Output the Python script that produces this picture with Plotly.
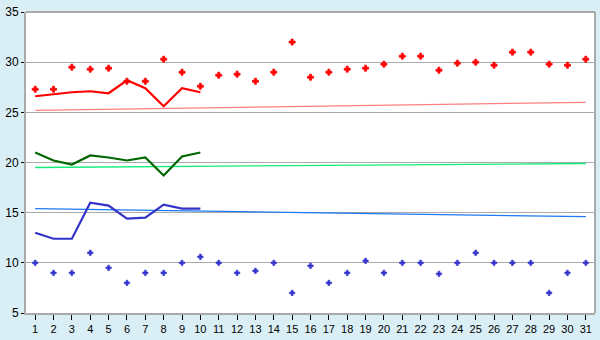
import plotly.graph_objects as go

days = list(range(1, 32))
red_points = [27.3, 27.3, 29.5, 29.3, 29.4, 28.1, 28.1, 30.3, 29.0, 27.6,
              28.7, 28.8, 28.1, 29.0, 32.0, 28.5, 29.0, 29.3, 29.4, 29.8,
              30.6, 30.6, 29.2, 29.9, 30.0, 29.7, 31.0, 31.0, 29.8, 29.7, 30.3]
blue_points = [10.0, 9.0, 9.0, 11.0, 9.5, 8.0, 9.0, 9.0, 10.0, 10.6,
               10.0, 9.0, 9.2, 10.0, 7.0, 9.7, 8.0, 9.0, 10.2, 9.0,
               10.0, 10.0, 8.9, 10.0, 11.0, 10.0, 10.0, 10.0, 7.0, 9.0, 10.0]
line_days = list(range(1, 11))
red_line = [26.6, 26.8, 27.0, 27.1, 26.9, 28.2, 27.4, 25.6, 27.4, 27.0]
green_line = [21.0, 20.2, 19.8, 20.7, 20.5, 20.2, 20.5, 18.7, 20.6, 21.0]
blue_line = [13.0, 12.4, 12.4, 16.0, 15.7, 14.4, 14.5, 15.8, 15.4, 15.4]
trend_days = [1, 31]
red_trend = [25.2, 26.0]
green_trend = [19.5, 19.9]
blue_trend = [15.4, 14.6]

fig = go.Figure()
fig.add_trace(go.Scatter(x=trend_days, y=red_trend, mode="lines",
                         line=dict(color="#ff8080", width=1.3)))
fig.add_trace(go.Scatter(x=trend_days, y=green_trend, mode="lines",
                         line=dict(color="#11ee77", width=1.3)))
fig.add_trace(go.Scatter(x=trend_days, y=blue_trend, mode="lines",
                         line=dict(color="#1a78f0", width=1.3)))
fig.add_trace(go.Scatter(x=line_days, y=red_line, mode="lines",
                         line=dict(color="#ff0000", width=2.2)))
fig.add_trace(go.Scatter(x=line_days, y=green_line, mode="lines",
                         line=dict(color="#006600", width=2.2)))
fig.add_trace(go.Scatter(x=line_days, y=blue_line, mode="lines",
                         line=dict(color="#3333cc", width=2.2)))
fig.add_trace(go.Scatter(x=days, y=red_points, mode="markers",
                         marker=dict(symbol="cross", size=5, color="#ff0000",
                                     line=dict(color="#ff0000", width=0.8))))
fig.add_trace(go.Scatter(x=days, y=blue_points, mode="markers",
                         marker=dict(symbol="cross", size=4.5, color="#3333cc",
                                     line=dict(color="#3333cc", width=0.6))))

fig.update_layout(
    width=600, height=340,
    margin=dict(l=20, r=5, t=5, b=20),
    paper_bgcolor="#daeff5",
    plot_bgcolor="#ffffff",
    showlegend=False,
    font=dict(family="Liberation Sans", size=11, color="#000000"),
)
fig.update_xaxes(
    range=[0.5, 31.5], tickmode="array", tickvals=days,
    ticktext=[str(d) for d in days],
    showgrid=False, zeroline=False,
    showline=True, linecolor="#aaaaaa", linewidth=2, mirror=False,
    ticks="outside", ticklen=5, tickcolor="#000000", tickwidth=1,
    tickfont=dict(size=11),
)
fig.update_yaxes(
    range=[5, 35], tickmode="array", tickvals=[5, 10, 15, 20, 25, 30, 35],
    showgrid=True, gridcolor="#aaaaaa", gridwidth=1, zeroline=False,
    showline=True, linecolor="#aaaaaa", linewidth=2,
    ticks="outside", ticklen=3, tickcolor="#000000",
    tickfont=dict(size=12), ticklabeloverflow="allow",
)
fig.add_shape(type="line", xref="paper", yref="paper", x0=1, x1=1, y0=0, y1=1,
              line=dict(color="#aaaaaa", width=2))
fig.add_shape(type="line", xref="paper", yref="paper", x0=0, x1=1, y0=1, y1=1,
              line=dict(color="#aaaaaa", width=2))

fig.write_html("out.html")
